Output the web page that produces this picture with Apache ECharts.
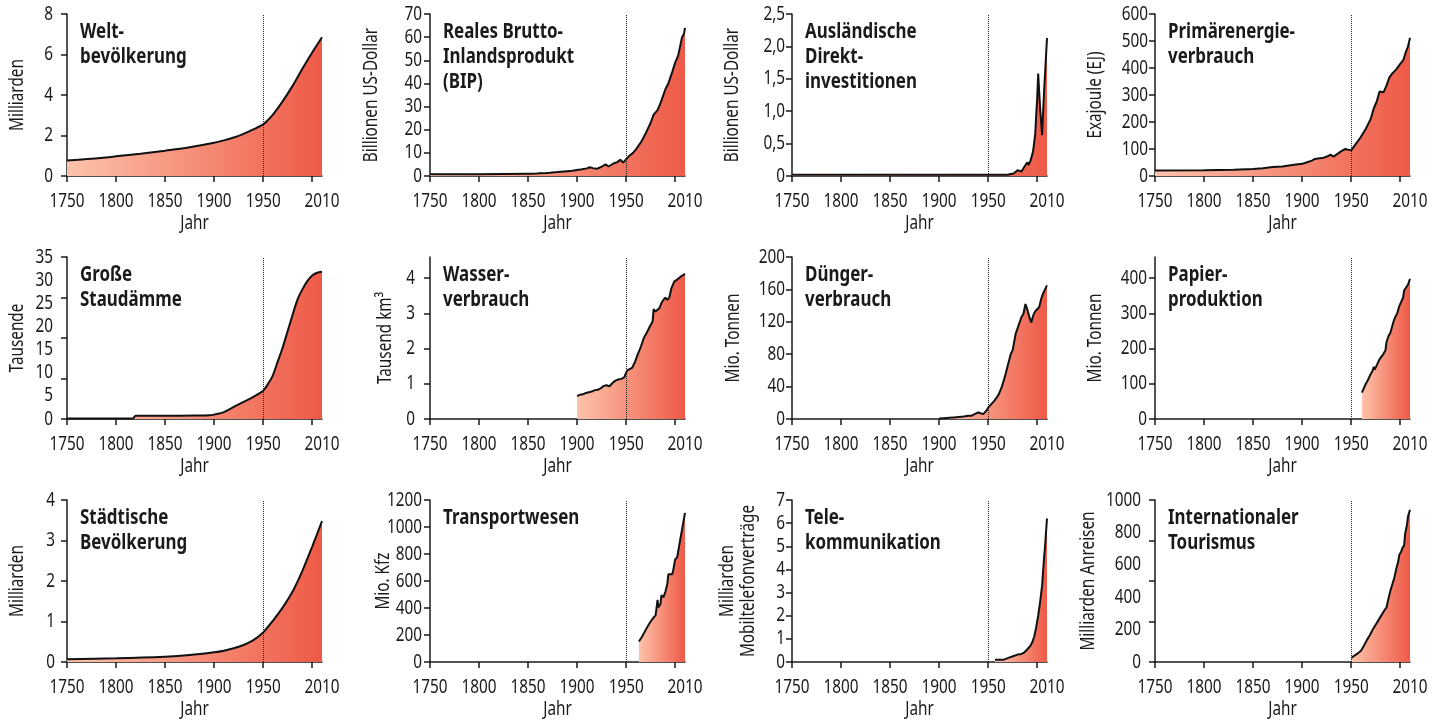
<!DOCTYPE html>
<html lang="de">
<head>
<meta charset="utf-8">
<title>Große Beschleunigung</title>
<script src="https://cdn.jsdelivr.net/npm/echarts@6/dist/echarts.min.js"></script>
<style>
  html, body { margin: 0; background: #fff; }
  #chart { width: 1445px; height: 722px; }
</style>
</head>
<body>
<div id="chart"></div>
<script>
// x-Achse: gemeinsam für alle Kacheln
const xLabelYears = [1750, 1800, 1850, 1900, 1950, 2010]
const xTickYears = [1750, 1800, 1850, 1900, 1950, 2000]
const markerYear = 1950

// [Jahr, Wert]
const weltbevoelkerung = [[1750, 0.76], [1775, 0.85], [1800, 0.97], [1825, 1.1], [1850, 1.25], [1875, 1.42], [1900, 1.64], [1910, 1.76], [1920, 1.9], [1930, 2.08], [1940, 2.3], [1950, 2.55], [1955, 2.77], [1960, 3.03], [1970, 3.7], [1980, 4.45], [1990, 5.3], [2000, 6.1], [2010, 6.85]]
const bip = [[1750, 0.75], [1800, 0.8], [1849, 1.0], [1850, 1.4], [1852, 1.0], [1859, 1.1], [1860, 1.5], [1862, 1.2], [1869, 1.3], [1870, 1.7], [1872, 1.4], [1880, 1.7], [1890, 2.1], [1895, 2.3], [1900, 2.6], [1905, 2.9], [1910, 3.3], [1913, 3.8], [1916, 3.4], [1920, 3.1], [1925, 4.0], [1929, 5.0], [1932, 4.1], [1937, 5.4], [1941, 6.0], [1944, 7.0], [1947, 5.8], [1950, 7.3], [1953, 8.6], [1957, 10], [1960, 11.5], [1965, 14.5], [1970, 18.5], [1975, 23], [1978, 26.5], [1982, 28.5], [1985, 31.5], [1990, 37.5], [1993, 40], [1997, 45], [2000, 49], [2003, 52], [2007, 60], [2009, 61.5], [2010, 64]]
const direktinvestitionen = [[1750, 0.02], [1970, 0.02], [1973, 0.03], [1976, 0.04], [1978, 0.06], [1980, 0.09], [1982, 0.06], [1984, 0.07], [1986, 0.12], [1988, 0.17], [1990, 0.21], [1991, 0.17], [1993, 0.23], [1995, 0.33], [1996, 0.4], [1998, 0.65], [1999, 0.95], [2000, 1.2], [2001, 1.58], [2003, 1.05], [2005, 0.63], [2007, 1.3], [2010, 2.13]]
const primaerenergie = [[1750, 20], [1800, 21], [1830, 23], [1850, 26], [1860, 29], [1870, 33], [1880, 35], [1890, 41], [1900, 45], [1905, 51], [1910, 57], [1913, 63], [1918, 66], [1922, 68], [1926, 73], [1929, 79], [1932, 72], [1936, 82], [1940, 92], [1944, 100], [1947, 97], [1950, 95], [1955, 120], [1960, 145], [1965, 175], [1970, 212], [1973, 250], [1976, 275], [1979, 313], [1981, 308], [1983, 310], [1986, 335], [1989, 365], [1992, 380], [1996, 395], [2000, 415], [2003, 428], [2006, 462], [2008, 480], [2010, 512]]
const staudaemme = [[1750, 0.1], [1817, 0.1], [1820, 0.7], [1850, 0.7], [1880, 0.75], [1895, 0.8], [1900, 0.95], [1910, 1.5], [1920, 2.6], [1930, 3.7], [1940, 4.8], [1950, 6.1], [1955, 7.6], [1960, 9.5], [1965, 12.5], [1970, 15.5], [1975, 19], [1980, 22.5], [1985, 25.8], [1990, 28], [1995, 29.8], [2000, 31], [2005, 31.6], [2010, 31.8]]
const wasser = [[1900, 0.65], [1903, 0.69], [1906, 0.7], [1909, 0.74], [1912, 0.76], [1915, 0.78], [1918, 0.82], [1921, 0.83], [1924, 0.87], [1927, 0.94], [1930, 0.96], [1933, 0.93], [1936, 1.02], [1939, 1.09], [1942, 1.12], [1945, 1.14], [1948, 1.18], [1950, 1.2], [1951, 1.38], [1953, 1.37], [1956, 1.45], [1959, 1.62], [1962, 1.85], [1965, 2.05], [1968, 2.3], [1971, 2.45], [1974, 2.62], [1976, 2.72], [1977, 2.78], [1978, 3.12], [1980, 3.05], [1982, 3.1], [1984, 3.15], [1986, 3.3], [1988, 3.38], [1990, 3.45], [1992, 3.38], [1994, 3.45], [1996, 3.7], [1997, 3.72], [1999, 3.9], [2001, 3.88], [2003, 3.98], [2006, 4.05], [2010, 4.12]]
const duenger = [[1900, 0.5], [1905, 1], [1910, 1.5], [1915, 2], [1920, 2.5], [1925, 3], [1930, 4], [1933, 4], [1936, 6], [1938, 8], [1940, 8], [1942, 7], [1945, 6], [1948, 10], [1950, 14], [1953, 18], [1956, 22], [1959, 27], [1961, 31], [1964, 40], [1967, 52], [1970, 66], [1973, 80], [1975, 85], [1978, 105], [1980, 112], [1982, 114], [1984, 126], [1986, 130], [1988, 142], [1990, 135], [1992, 126], [1994, 119], [1996, 128], [1998, 133], [2000, 135], [2002, 138], [2004, 148], [2006, 155], [2010, 165]]
const papier = [[1961, 75], [1963, 88], [1965, 100], [1967, 110], [1970, 128], [1972, 138], [1973, 148], [1974, 140], [1975, 145], [1977, 158], [1979, 170], [1981, 174], [1983, 185], [1985, 195], [1986, 218], [1988, 235], [1990, 245], [1992, 250], [1993, 275], [1995, 290], [1997, 300], [1999, 320], [2001, 325], [2003, 345], [2004, 365], [2006, 368], [2008, 382], [2010, 398]]
const staedtisch = [[1750, 0.07], [1800, 0.09], [1850, 0.13], [1875, 0.17], [1900, 0.24], [1910, 0.28], [1920, 0.34], [1930, 0.42], [1940, 0.54], [1950, 0.73], [1955, 0.87], [1960, 1.02], [1970, 1.35], [1980, 1.74], [1990, 2.25], [2000, 2.85], [2010, 3.48]]
const transport = [[1963, 152], [1966, 185], [1969, 225], [1972, 265], [1975, 300], [1978, 330], [1980, 345], [1981, 400], [1982, 460], [1983, 405], [1985, 430], [1986, 495], [1988, 480], [1990, 520], [1992, 580], [1993, 650], [1995, 660], [1997, 650], [1998, 680], [2000, 760], [2002, 775], [2005, 900], [2010, 1105]]
const telekom = [[1957, 0.1], [1960, 0.1], [1966, 0.1], [1968, 0.17], [1972, 0.2], [1976, 0.26], [1980, 0.32], [1984, 0.35], [1987, 0.42], [1990, 0.55], [1993, 0.7], [1995, 0.85], [1997, 1.1], [1999, 1.5], [2001, 2.0], [2003, 2.6], [2005, 3.3], [2007, 4.5], [2008, 5.0], [2010, 6.2]]
const tourismus = [[1950, 25], [1953, 38], [1956, 50], [1958, 55], [1960, 70], [1963, 100], [1966, 135], [1969, 165], [1972, 200], [1975, 230], [1978, 260], [1980, 280], [1982, 285], [1984, 320], [1986, 335], [1988, 390], [1990, 440], [1992, 480], [1994, 520], [1996, 575], [1998, 620], [1999, 660], [2001, 680], [2002, 700], [2004, 720], [2005, 790], [2007, 850], [2008, 900], [2010, 940]]

// Beschriftungen der y-Achsen
const ticksWelt = [0, 2, 4, 6, 8]
const ticksBip = [0, 10, 20, 30, 40, 50, 60, 70]
const ticksFdi = [0, 0.5, 1, 1.5, 2, 2.5]
const ticksEnergie = [0, 100, 200, 300, 400, 500, 600]
const labelsDaemme = [0, 5, 10, 15, 20, 25, 30, 35]
const ticksDaemme = [0, 8.75, 17.5, 26.25, 35]
const ticksWasser = [0, 1, 2, 3, 4]
const ticksDuenger = [0, 40, 80, 120, 160, 200]
const ticksPapier = [0, 100, 200, 300, 400]
const ticksStadt = [0, 1, 2, 3, 4]
const ticksTransport = [0, 200, 400, 600, 800, 1000, 1200]
const ticksTelekom = [0, 1, 2, 3, 4, 5, 6, 7]
const labelsTourismus = [0, 200, 400, 600, 800, 1000]
const ticksTourismus = [0, 250, 500, 750, 1000]

const panels = [
  { title: 'Welt-\nbevölkerung', unit: 'Milliarden', data: weltbevoelkerung, max: 8, labels: ticksWelt, smooth: 0.3 },
  { title: 'Reales Brutto-\nInlandsprodukt\n(BIP)', unit: 'Billionen US-Dollar', data: bip, max: 70, labels: ticksBip },
  { title: 'Ausländische\nDirekt-\ninvestitionen', unit: 'Billionen US-Dollar', data: direktinvestitionen, max: 2.5, labels: ticksFdi, comma: true },
  { title: 'Primärenergie-\nverbrauch', unit: 'Exajoule (EJ)', data: primaerenergie, max: 600, labels: ticksEnergie },
  { title: 'Große\nStaudämme', unit: 'Tausende', data: staudaemme, max: 35, labels: labelsDaemme, ticks: ticksDaemme, smooth: 0.3 },
  { title: 'Wasser-\nverbrauch', unit: 'Tausend km³', data: wasser, max: 4.6, labels: ticksWasser },
  { title: 'Dünger-\nverbrauch', unit: 'Mio. Tonnen', data: duenger, max: 200, labels: ticksDuenger },
  { title: 'Papier-\nproduktion', unit: 'Mio. Tonnen', data: papier, max: 460, labels: ticksPapier },
  { title: 'Städtische\nBevölkerung', unit: 'Milliarden', data: staedtisch, max: 4, labels: ticksStadt, smooth: 0.3 },
  { title: 'Transportwesen', unit: 'Mio. Kfz', data: transport, max: 1200, labels: ticksTransport },
  { title: 'Tele-\nkommunikation', unit: 'Milliarden\nMobiltelefonverträge', data: telekom, max: 7, labels: ticksTelekom },
  { title: 'Internationaler\nTourismus', unit: 'Milliarden Anreisen', data: tourismus, max: 1000, labels: labelsTourismus, ticks: ticksTourismus }
]

// Layout
const colLefts = [67, 430, 792, 1155]
const rowTops = [14, 257, 500]
const plotW = 255
const plotH = 162
const yLabelGaps = [14, 8, 7, 7, 14, 15, 7, 8, 12, 8, 7, 14]
const yNameOffsets = [50, 59, 60, 60, 50, 45, 59, 60, 50, 47, 54, 67]
const font = "'Noto Sans', 'DejaVu Sans', sans-serif"
const ink = '#1a1a1a'
const axisStyle = { color: ink, width: 1.5 }
// die Vorlage nutzt eine schmale Schrift -> Text horizontal stauchen
const labelSize = 19.5
const labelSqueeze = 0.785
const titleSize = 22
const titleSqueeze = 0.77

const areaFill = () => new echarts.graphic.LinearGradient(0, 0, 1, 0, [
  { offset: 0, color: '#fdc3ab' },
  { offset: 1, color: '#ee5a47' }
])

const option = { animation: false, grid: [], xAxis: [], yAxis: [], series: [] }

panels.forEach((p, i) => {
  const left = colLefts[i % 4]
  const top = rowTops[Math.floor(i / 4)]
  option.grid.push({ left, top, width: plotW, height: plotH, containLabel: false, outerBoundsMode: 'none' })
  option.xAxis.push({
    gridIndex: i,
    type: 'value',
    min: 1750,
    max: 2010,
    axisLine: { show: true, onZero: false, lineStyle: axisStyle },
    axisTick: { show: true, customValues: xTickYears, length: 6, lineStyle: axisStyle },
    axisLabel: { show: false },
    splitLine: { show: false }
  })
  option.yAxis.push({
    gridIndex: i,
    type: 'value',
    min: 0,
    max: p.max,
    axisLine: { show: true, onZero: false, lineStyle: axisStyle },
    axisTick: { show: true, customValues: p.ticks || p.labels, length: 6, lineStyle: axisStyle },
    axisLabel: { show: false },
    splitLine: { show: false }
  })
  option.series.push({
    type: 'line',
    xAxisIndex: i,
    yAxisIndex: i,
    data: p.data,
    showSymbol: false,
    smooth: p.smooth || false,
    lineStyle: { color: '#111', width: 2 },
    areaStyle: { color: areaFill(), opacity: 1 },
    markLine: {
      silent: true,
      symbol: 'none',
      label: { show: false },
      lineStyle: { type: 'dotted', color: '#222', width: 1 },
      data: [{ xAxis: markerYear }]
    }
  })
})

const chart = echarts.init(document.getElementById('chart'), null, { renderer: 'canvas' })
chart.setOption(option)

// Beschriftungen als gestauchter Text, Positionen aus den Achsen der Kacheln
const txt = (text, x, y, o) => ({
  type: 'text',
  x,
  y,
  silent: true,
  z: 10,
  scaleX: o.squeeze,
  rotation: o.rotation || 0,
  style: {
    text,
    fill: ink,
    fontFamily: font,
    fontSize: o.size,
    fontWeight: o.weight || 'normal',
    align: o.align || 'center',
    verticalAlign: o.valign || 'middle',
    lineHeight: o.lineHeight || Math.round(o.size * 1.1)
  }
})

const texts = []
panels.forEach((p, i) => {
  const left = colLefts[i % 4]
  const top = rowTops[Math.floor(i / 4)]
  const lbl = { size: labelSize, squeeze: labelSqueeze }
  xLabelYears.forEach(year => {
    const [px, py] = chart.convertToPixel({ gridIndex: i }, [year, 0])
    texts.push(txt(String(year), px, py + 25, lbl))
  })
  p.labels.forEach(v => {
    const [px, py] = chart.convertToPixel({ gridIndex: i }, [1750, v])
    const s = p.comma && v !== 0 ? v.toFixed(1).replace('.', ',') : String(v)
    texts.push(txt(s, px - yLabelGaps[i], py, { ...lbl, align: 'right' }))
  })
  texts.push(txt('Jahr', left + plotW / 2, top + plotH + 47, lbl))
  texts.push(txt(p.unit, left - yNameOffsets[i], top + plotH / 2, { ...lbl, rotation: Math.PI / 2, lineHeight: 21 }))
  texts.push(txt(p.title, left + 13, top + 5, {
    size: titleSize, squeeze: titleSqueeze, weight: 'bold', align: 'left', valign: 'top', lineHeight: 25
  }))
})
chart.setOption({ graphic: texts })
</script>
</body>
</html>
